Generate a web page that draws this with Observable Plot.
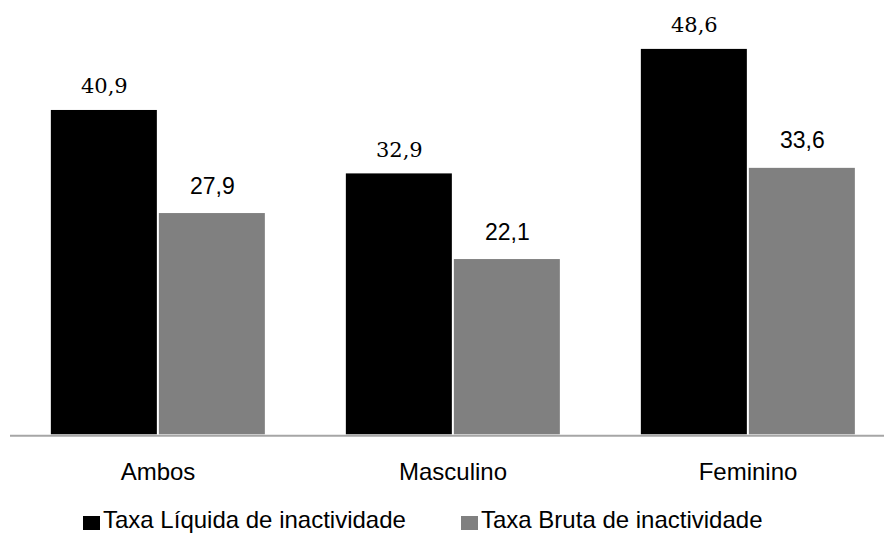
<!DOCTYPE html>
<html>
<head>
<meta charset="utf-8">
<script src="https://cdn.jsdelivr.net/npm/d3@7"></script>
<script src="https://cdn.jsdelivr.net/npm/@observablehq/plot@0.6"></script>
<style>
  html, body { margin: 0; padding: 0; background: #fff; }
  #wrap { position: relative; width: 884px; height: 533px; overflow: hidden; }
  #legend { position: relative; width: 884px; height: 33px; font-family: "Liberation Sans", Arial, sans-serif; font-size: 24px; color: #000; }
  .sw { position: absolute; width: 17px; height: 14px; top: 16px; }
  .lt { position: absolute; top: 8px; line-height: 24px; white-space: nowrap; }
</style>
</head>
<body>
<div id="wrap"></div>
<script>
const categories = ["Ambos", "Masculino", "Feminino"];
const seriesNames = ["Taxa Líquida de inactividade", "Taxa Bruta de inactividade"];
const liquida = [40.9, 32.9, 48.6];
const bruta = [27.9, 22.1, 33.6];
const colors = ["#000000", "#808080"];

const data = categories.flatMap((c, i) => [
  {cat: c, serie: seriesNames[0], value: liquida[i]},
  {cat: c, serie: seriesNames[1], value: bruta[i]}
]);
const fmt = v => v.toFixed(1).replace(".", ",");

const chart = Plot.plot({
  width: 884,
  height: 500,
  marginLeft: 10.15,
  marginRight: -11.15,
  marginTop: 37.8,
  marginBottom: 65.7,
  style: {background: "white"},
  fx: {domain: categories, padding: 0, label: null},
  x: {domain: seriesNames, paddingInner: 0, paddingOuter: 0.357, axis: null},
  y: {domain: [0, 50], axis: null},
  color: {domain: seriesNames, range: colors},
  marks: [
    Plot.barY(data, {fx: "cat", x: "serie", y: "value", fill: "serie", insetLeft: 1, insetRight: 1}),
    Plot.ruleY([0], {stroke: "#a6a6a6", strokeWidth: 2, dy: 1}),
    Plot.text(data.filter(d => d.serie === seriesNames[0]), {
      fx: "cat", x: "serie", y: "value", text: d => fmt(d.value),
      lineAnchor: "bottom", dy: -17, fontFamily: "DejaVu Serif", fontSize: 21, fill: "#000"
    }),
    Plot.text(data.filter(d => d.serie === seriesNames[1]), {
      fx: "cat", x: "serie", y: "value", text: d => fmt(d.value),
      lineAnchor: "bottom", dy: -20, fontFamily: "Liberation Sans", fontSize: 23, fill: "#000"
    }),
    Plot.axisFx({anchor: "bottom", tickSize: 0, tickPadding: 28.4, fontSize: 24, fontFamily: "Liberation Sans", label: null, fill: "#000"})
  ]
});

const wrap = document.getElementById("wrap");
wrap.appendChild(chart);

const legend = document.createElement("div");
legend.id = "legend";
const legendX = [83, 461];
seriesNames.forEach((name, i) => {
  const sw = document.createElement("div");
  sw.className = "sw";
  sw.style.left = legendX[i] + "px";
  sw.style.background = colors[i];
  const lt = document.createElement("div");
  lt.className = "lt";
  lt.style.left = (legendX[i] + 20) + "px";
  lt.textContent = name;
  legend.appendChild(sw);
  legend.appendChild(lt);
});
wrap.appendChild(legend);
</script>
</body>
</html>
